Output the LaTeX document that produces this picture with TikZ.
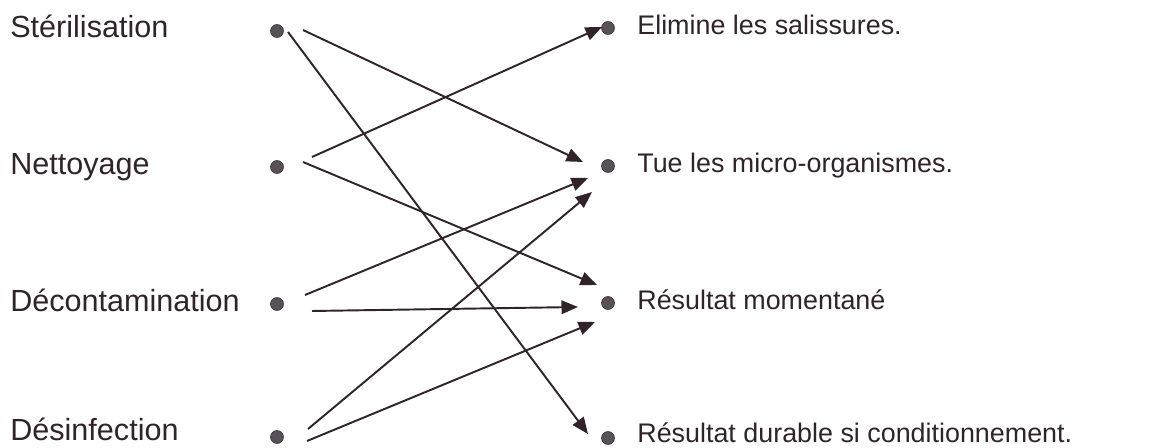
\documentclass[tikz,border=0pt]{standalone}
\usepackage{fontspec}
\setmainfont{Liberation Sans}
\usetikzlibrary{arrows.meta}
\definecolor{ink}{RGB}{48,36,42}
\definecolor{dotgray}{RGB}{88,82,88}
\begin{document}
\begin{tikzpicture}[x=0.02cm,y=-0.02cm,
        dot/.style={circle,fill=dotgray,draw=ink,line width=0.3pt,inner sep=0pt,minimum size=0.26cm},
        leftlabel/.style={anchor=base west,inner sep=0pt,text=ink,font=\fontsize{17.4}{20}\selectfont},
        rightlabel/.style={anchor=base west,inner sep=0pt,text=ink,font=\fontsize{15.3}{18}\selectfont},
        link/.style={ink,line width=1.1pt,-{Triangle[length=0.33cm,width=0.27cm]}}]
    \useasboundingbox (0,0) rectangle (1155,448);
    % left column
    \node[leftlabel] (tster) at (10,38) {Stérilisation};
    \node[leftlabel] (tnett) at (10,175) {Nettoyage};
    \node[leftlabel] (tdeco) at (10,312) {Décontamination};
    \node[leftlabel] (tdesi) at (10,441) {Désinfection};
    \node[dot] (ster) at (277,31) {};
    \node[dot] (nett) at (277,167) {};
    \node[dot] (deco) at (277,304) {};
    \node[dot] (desi) at (277,437) {};
    % right column
    \node[dot] (elim) at (608,28) {};
    \node[dot] (tue) at (608,166) {};
    \node[dot] (mom) at (608,303) {};
    \node[dot] (dur) at (608,438) {};
    \node[rightlabel] (telim) at (637,35) {Elimine les salissures.};
    \node[rightlabel] (ttue) at (637,173) {Tue les micro-organismes.};
    \node[rightlabel] (tmom) at (637,310) {Résultat momentané};
    \node[rightlabel] (tdur) at (637,443) {Résultat durable si conditionnement.};
    % arrows
    \foreach \a/\sx/\sy/\b/\ex/\ey in {ster/26/-1/tue/-25/-4, ster/11/1/dur/-20/-4,
            nett/35/-10/elim/-6/-1, nett/26/-5/mom/-11/-18,
            deco/28/-9/tue/-20/12, deco/35/7/mom/-30/4,
            desi/31/-8/tue/-16/26, desi/30/4/mom/-13/19}
        \draw[link] ([shift={(\sx,\sy)}]\a.center) -- ([shift={(\ex,\ey)}]\b.center);
\end{tikzpicture}
\end{document}
